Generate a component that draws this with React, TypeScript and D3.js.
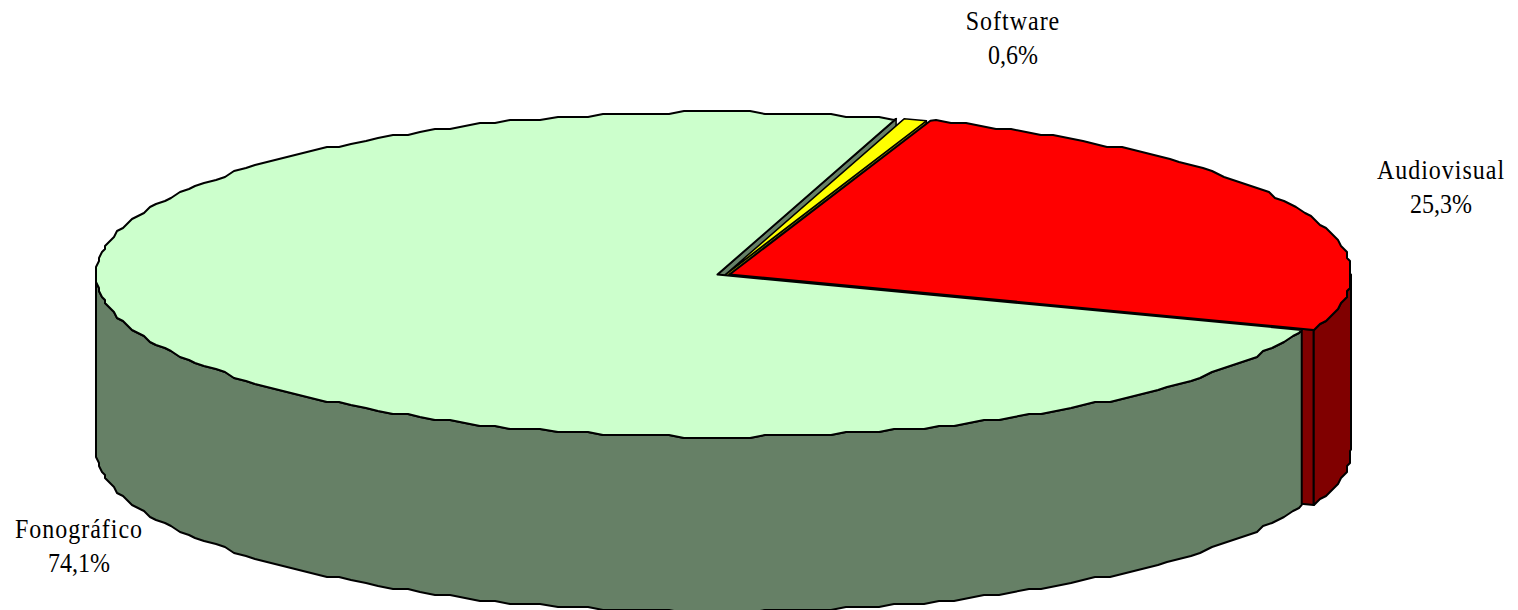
import React from "react";
import * as d3 from "d3";

const categories = ["Software", "Audiovisual", "Fonográfico"];
const shares = [0.6, 25.3, 74.1];
const shareLabels = ["0,6%", "25,3%", "74,1%"];
const topColors = ["#FFFF00", "#FF0000", "#CCFFCC"];
const wallColors = ["#808000", "#800000", "#668066"];

const W = 1518;
const H = 610;
const START_DEG = 16.7;
const RX = 621.5;
const RY = 162.5;
const CY = 274.5;
const DEPTH = 175;
const centers = [725.5, 729.5, 717.5];
const labelPos = [
  { x: 1013, y: 30 },
  { x: 1441, y: 179 },
  { x: 79, y: 538 },
];

const pie = d3
  .pie<number>()
  .sort(null)
  .value((d) => d)
  .startAngle((START_DEG * Math.PI) / 180)
  .endAngle((START_DEG * Math.PI) / 180 + 2 * Math.PI);
const arcs = pie(shares);

type P = [number, number];
const line = d3.line<P>().curve(d3.curveLinear);
const STEP = (1.5 * Math.PI) / 180;
const GRID = 3;

function rimPoint(cx: number, a: number, snap = true): P {
  const x = cx + RX * Math.sin(a);
  const y = CY - RY * Math.cos(a);
  return snap ? [Math.round(x / GRID) * GRID, Math.round(y / GRID) * GRID] : [x, y];
}
function rim(cx: number, a0: number, a1: number): P[] {
  const pts: P[] = [rimPoint(cx, a0, false)];
  const ticks = d3.range(Math.ceil(a0 / STEP), Math.floor(a1 / STEP) + 1);
  ticks.forEach((k) => pts.push(rimPoint(cx, k * STEP)));
  pts.push(rimPoint(cx, a1, false));
  return pts;
}
const down = (pts: P[]): P[] => pts.map(([x, y]) => [x, y + DEPTH] as P).reverse();

function topPath(i: number) {
  const a = arcs[i];
  const apex: P = [centers[i], CY];
  return line([apex, ...rim(centers[i], a.startAngle, a.endAngle)])! + "Z";
}
function radialWall(i: number, angle: number) {
  const apex: P = [centers[i], CY];
  const edge = rimPoint(centers[i], angle, false);
  return line([apex, edge, [edge[0], edge[1] + DEPTH], [apex[0], apex[1] + DEPTH]])! + "Z";
}
function outerWall(i: number, a0: number, a1: number) {
  const pts = rim(centers[i], a0, a1);
  return line([...pts, ...down(pts)])! + "Z";
}

const PI = Math.PI;
const stroke = { stroke: "#000", strokeWidth: 2, strokeLinejoin: "round" as const };
const thin = { stroke: "#000", strokeWidth: 1.5, strokeLinejoin: "round" as const };
const X_SQUEEZE = 0.905;
const LINE_GAP = 34.5;

export default function App() {
  const [sw, av, fo] = arcs;
  return (
    <svg
      width={W}
      height={H}
      viewBox={`0 0 ${W} ${H}`}
      style={{ position: "absolute", left: 0, top: 0, display: "block", background: "#fff" }}
    >
      <path d={radialWall(2, fo.endAngle)} fill={wallColors[2]} {...thin} />
      <path d={radialWall(0, sw.endAngle)} fill={wallColors[0]} {...thin} />
      <path d={topPath(0)} fill={topColors[0]} {...thin} />
      <path d={radialWall(1, av.endAngle)} fill={wallColors[1]} {...stroke} />
      <path d={outerWall(1, PI / 2, av.endAngle)} fill={wallColors[1]} {...stroke} />
      <path d={topPath(1)} fill={topColors[1]} {...stroke} />
      <path d={outerWall(2, fo.startAngle, (3 * PI) / 2)} fill={wallColors[2]} {...stroke} />
      <path d={topPath(2)} fill={topColors[2]} {...stroke} />
      {categories.map((c, i) => (
        <text
          key={c}
          textAnchor="middle"
          fontFamily="'Liberation Serif', serif"
          fontSize={26.5}
          fill="#000"
          transform={`translate(${labelPos[i].x},${labelPos[i].y}) scale(${X_SQUEEZE},1)`}
        >
          <tspan x={0} y={0} letterSpacing={1.1}>{c}</tspan>
          <tspan x={0} y={LINE_GAP}>{shareLabels[i]}</tspan>
        </text>
      ))}
    </svg>
  );
}
